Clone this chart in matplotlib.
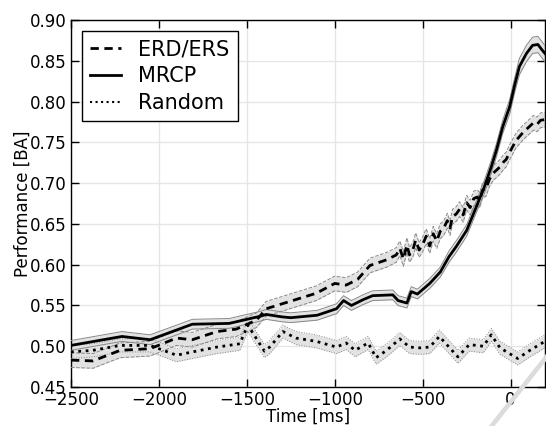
"""
    ERD/ERS vs MRCP performance over time
"""

import numpy as np
import matplotlib
matplotlib.use('Agg')
import matplotlib.pyplot as plt
from matplotlib.lines import Line2D

# ERD/ERS (dashed)
erd_t = [-2500, -2375, -2220, -2050, -1900, -1810, -1670, -1560, -1445, -1390,
         -1255, -1105, -1000, -935, -870, -800, -705, -650, -630, -610,
         -590, -575, -555, -540, -520, -500, -480, -460, -440, -420,
         -400, -380, -360, -345, -330, -310, -290, -270, -250, -230,
         -210, -190, -175, -160, -140, -120, -100, -80, -60, -40,
         -25, -10, 10, 30, 50, 70, 90, 110, 130, 150,
         170, 195]
erd_v = [0.483, 0.482, 0.495, 0.497, 0.510, 0.508, 0.518, 0.521, 0.532, 0.546,
         0.555, 0.565, 0.577, 0.575, 0.582, 0.599, 0.606, 0.612, 0.620, 0.607,
         0.624, 0.612, 0.619, 0.630, 0.618, 0.625, 0.635, 0.623, 0.638, 0.629,
         0.641, 0.645, 0.654, 0.645, 0.659, 0.662, 0.668, 0.661, 0.676, 0.670,
         0.681, 0.683, 0.679, 0.691, 0.693, 0.705, 0.712, 0.716, 0.720, 0.726,
         0.729, 0.736, 0.744, 0.752, 0.757, 0.762, 0.766, 0.770, 0.774, 0.772,
         0.777, 0.778]
erd_err = 0.009

# MRCP (solid)
mrcp_t = [-2500, -2210, -2050, -1810, -1600, -1420, -1390, -1300, -1250, -1100,
          -990, -950, -905, -840, -785, -670, -640, -590, -565, -530,
          -460, -400, -350, -310, -250, -195, -150, -110, -80, -45,
          -5, 25, 50, 90, 125, 155, 180, 195]
mrcp_v = [0.501, 0.512, 0.508, 0.527, 0.528, 0.537, 0.539, 0.536, 0.535, 0.538,
          0.546, 0.556, 0.550, 0.557, 0.562, 0.563, 0.556, 0.553, 0.567, 0.564,
          0.577, 0.591, 0.610, 0.622, 0.642, 0.671, 0.695, 0.720, 0.741, 0.769,
          0.794, 0.822, 0.843, 0.859, 0.869, 0.870, 0.863, 0.859]
mrcp_err = [0.006, 0.006, 0.006, 0.006, 0.006, 0.006, 0.006, 0.006, 0.006, 0.006,
            0.006, 0.006, 0.006, 0.006, 0.006, 0.006, 0.006, 0.006, 0.006, 0.006,
            0.006, 0.006, 0.007, 0.007, 0.007, 0.007, 0.008, 0.008, 0.008, 0.008,
            0.009, 0.009, 0.010, 0.010, 0.010, 0.010, 0.010, 0.010]

# Random (dotted)
rand_t = [-2500, -2375, -2220, -2050, -1900, -1810, -1670, -1540, -1495, -1400,
          -1370, -1295, -1220, -1105, -990, -935, -885, -810, -765, -705,
          -630, -575, -515, -460, -405, -300, -235, -155, -110, -60,
          40, 110, 195]
rand_v = [0.493, 0.495, 0.501, 0.501, 0.489, 0.493, 0.499, 0.503, 0.526, 0.494,
          0.499, 0.518, 0.510, 0.506, 0.499, 0.504, 0.495, 0.504, 0.486, 0.495,
          0.509, 0.499, 0.498, 0.499, 0.512, 0.487, 0.502, 0.500, 0.514, 0.498,
          0.485, 0.495, 0.506]
rand_err = 0.008

x_ticks = [-2500, -2000, -1500, -1000, -500, 0]
y_ticks = [0.45, 0.50, 0.55, 0.60, 0.65, 0.70, 0.75, 0.80, 0.85, 0.90]

fig = plt.figure(figsize=(5.46, 4.26), dpi=100)
ax = fig.add_axes([0.130, 0.0915, 0.868, 0.8615])


def band(t, v, err, ls, lw, label, dashes=None):
    t = np.asarray(t)
    v = np.asarray(v)
    err = np.asarray(err)
    ax.fill_between(t, v - err, v + err, color='#e2e2e2', lw=0, zorder=2)
    for edge in (v - err, v + err):
        ax.plot(t, edge, color='#888888', ls=ls, lw=0.7, zorder=3)
    main, = ax.plot(t, v, color='black', ls=ls, lw=lw, label=label, zorder=4)
    if dashes is not None:
        main.set_dashes(dashes)
    return main


band(erd_t, erd_v, erd_err, '--', 2.0, 'ERD/ERS', dashes=(3, 2))
band(mrcp_t, mrcp_v, mrcp_err, '-', 2.0, 'MRCP')
band(rand_t, rand_v, rand_err, ':', 2.0, 'Random')

ax.set_xlim(-2500, 195)
ax.set_ylim(0.45, 0.90)
ax.set_xticks(x_ticks)
ax.set_yticks(y_ticks)
ax.set_yticklabels([f"{y:.2f}" for y in y_ticks])
ax.tick_params(direction='in', top=True, right=True, length=6, width=1,
               labelsize=12, pad=3)
ax.grid(True, color='#e6e6e6', lw=1, zorder=0)
ax.set_axisbelow(True)
for s in ax.spines.values():
    s.set_linewidth(1.0)

ax.set_xlabel("Time [ms]", fontsize=12, labelpad=-1)
ax.set_ylabel("Performance [BA]", fontsize=12, labelpad=-1)

handles = [Line2D([], [], color='black', ls='--', lw=2.0, dashes=(3, 2)),
           Line2D([], [], color='black', ls='-', lw=2.0),
           Line2D([], [], color='black', ls=':', lw=1.5)]
leg = ax.legend(handles, ['ERD/ERS', 'MRCP', 'Random'], loc='upper left',
                bbox_to_anchor=(0.023, 0.970), borderaxespad=0,
                fontsize=15, handlelength=1.5, fancybox=False,
                framealpha=1, edgecolor='black', labelspacing=0.33,
                handletextpad=0.8, borderpad=0.4)
leg.get_frame().set_linewidth(1.0)

# faint diagonal stroke at bottom right
fig.add_artist(Line2D([1.040, 0.8874], [0.2254, -0.0211],
                      transform=fig.transFigure, color='#dcdcdc', lw=3.3))

plt.savefig('out.png', dpi=100)
